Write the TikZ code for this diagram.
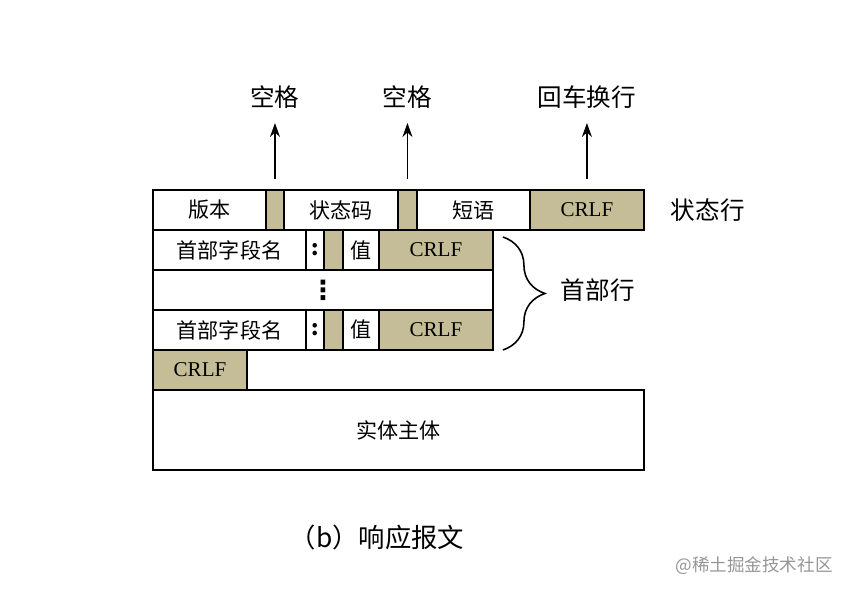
\documentclass[tikz,border=0pt]{standalone}
\usepackage{fontspec}
\setmainfont{Liberation Serif}
\newfontfamily\cnfont{Noto Sans CJK SC}
\newfontfamily\symfont{DejaVu Sans}
\usetikzlibrary{arrows.meta,positioning,decorations.pathreplacing}
\definecolor{fieldtan}{RGB}{197,189,151}
\definecolor{markgray}{RGB}{150,150,150}

\begin{document}
\begin{tikzpicture}[x=0.02cm,y=-0.02cm,>={Stealth[length=0.28cm,width=0.2cm]},
                    line width=0.9pt]
  \tikzstyle{field}=[draw=black,fill=white,inner sep=0pt,outer sep=0pt,
                     minimum height=0.8cm,font=\cnfont\fontsize{12}{12}\selectfont]
  \tikzstyle{blank}=[field,fill=fieldtan]
  \tikzstyle{crlf}=[field,fill=fieldtan,font=\fontsize{12}{12}\selectfont]
  \tikzstyle{note}=[inner sep=3pt,font=\cnfont\fontsize{14}{14}\selectfont]

  \useasboundingbox (0,0) rectangle (852,592);

  % status line
  \node[field,minimum width=2.26cm,anchor=north west] (ver) at (153,190) {版本};
  \node[blank,minimum width=0.36cm,right=0pt of ver]   (sp1)    {};
  \node[field,minimum width=2.28cm,right=0pt of sp1]   (code)   {状态码};
  \node[blank,minimum width=0.38cm,right=0pt of code]  (sp2)    {};
  \node[field,minimum width=2.26cm,right=0pt of sp2]   (phrase) {短语};
  \node[crlf,minimum width=2.28cm,right=0pt of phrase] (crlfS)  {CRLF};

  % header lines
  \node[field,minimum width=3.06cm,anchor=north west] (name1) at (ver.south west) {首部字段名};
  \node[field,minimum width=0.36cm,right=0pt of name1] (col1)   {\bfseries :};
  \node[blank,minimum width=0.38cm,right=0pt of col1]  (sp3)    {};
  \node[field,minimum width=0.72cm,right=0pt of sp3]   (val1)   {值};
  \node[crlf,minimum width=2.28cm,right=0pt of val1]   (crlfH1) {CRLF};

  \node[field,minimum width=6.8cm,anchor=north west,font=\symfont\bfseries\fontsize{15}{15}\selectfont]
        (dots) at (name1.south west) {⋮};

  \node[field,minimum width=3.06cm,anchor=north west] (name2) at (dots.south west) {首部字段名};
  \node[field,minimum width=0.36cm,right=0pt of name2] (col2)   {\bfseries :};
  \node[blank,minimum width=0.38cm,right=0pt of col2]  (sp4)    {};
  \node[field,minimum width=0.72cm,right=0pt of sp4]   (val2)   {值};
  \node[crlf,minimum width=2.28cm,right=0pt of val2]   (crlfH2) {CRLF};

  % empty line and body
  \node[crlf,minimum width=1.88cm,anchor=north west] (crlfE) at (name2.south west) {CRLF};
  \node[field,minimum width=9.82cm,minimum height=1.6cm,anchor=north west] (body)
        at (crlfE.south west) {实体主体};

  % labels
  \node[note,above=1.5cm of sp1]   (lblA) {空格};
  \node[note,above=1.5cm of sp2]   (lblB) {空格};
  \node[note,above=1.5cm of crlfS] (lblC) {回车换行};
  \node[note,right=0.42cm of crlfS] (stline) {状态行};

  \draw[->,shorten <=0.22cm,shorten >=0.16cm] (sp1) -- (lblA);
  \draw[->,shorten <=0.22cm,shorten >=0.16cm] (sp2) -- (lblB);
  \draw[->,shorten <=0.22cm,shorten >=0.16cm] (crlfS) -- (lblC);

  \draw[decorate,decoration={brace,amplitude=0.84cm}]
        ([xshift=0.2cm,yshift=-0.14cm]crlfH1.north east) -- ([xshift=0.2cm]crlfH2.south east);
  \node[note,anchor=west] (hdline) at ([xshift=1.24cm]dots.east) {首部行};

  \node[font=\cnfont\fontsize{15}{15}\selectfont] (caption) at (377,537) {（b）响应报文};
  \node[text=markgray,font=\cnfont\fontsize{10}{10}\selectfont] (mark) at (754,566) {@稀土掘金技术社区};
\end{tikzpicture}
\end{document}
